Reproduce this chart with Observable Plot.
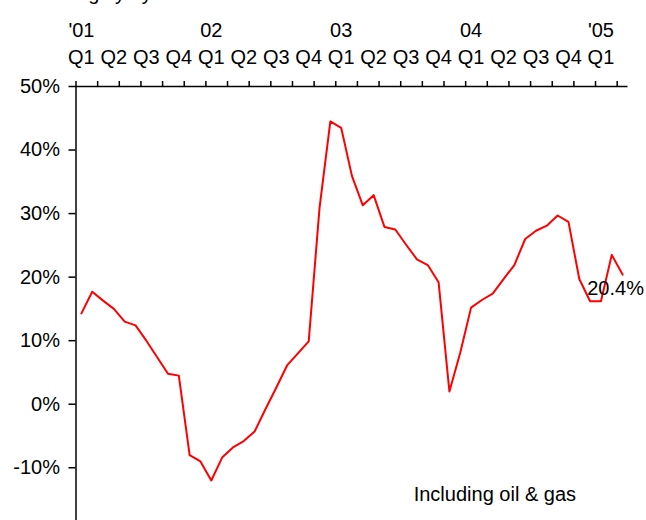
<!DOCTYPE html>
<html><head><meta charset="utf-8">
<script src="https://cdn.jsdelivr.net/npm/d3@7"></script>
<script src="https://cdn.jsdelivr.net/npm/@observablehq/plot@0.6"></script>
<style>
body{margin:0;background:#fff;}
#chart{width:646px;height:520px;overflow:hidden;}
</style></head><body><div id="chart"></div>
<script>
const months = [
 "2001-01","2001-02","2001-03","2001-04","2001-05","2001-06","2001-07","2001-08","2001-09","2001-10","2001-11","2001-12",
 "2002-01","2002-02","2002-03","2002-04","2002-05","2002-06","2002-07","2002-08","2002-09","2002-10","2002-11","2002-12",
 "2003-01","2003-02","2003-03","2003-04","2003-05","2003-06","2003-07","2003-08","2003-09","2003-10","2003-11","2003-12",
 "2004-01","2004-02","2004-03","2004-04","2004-05","2004-06","2004-07","2004-08","2004-09","2004-10","2004-11","2004-12",
 "2005-01","2005-02","2005-03"];
const values = [
 14.3, 17.7, 16.3, 15.0, 13.0, 12.4, 10.0, 7.4, 4.8, 4.5, -8.0, -9.0,
 -12.0, -8.4, -6.8, -5.8, -4.3, -0.8, 2.6, 6.1, 8.0, 9.9, 30.9, 44.5,
 43.5, 35.9, 31.3, 32.9, 27.9, 27.5, 25.1, 22.8, 21.9, 19.2, 2.0, 8.1,
 15.2, 16.4, 17.4, 19.7, 21.9, 26.0, 27.3, 28.1, 29.7, 28.7, 19.7, 16.2,
 16.2, 23.5, 20.4];
const quarterLabels = ["Q1","Q2","Q3","Q4","Q1","Q2","Q3","Q4","Q1","Q2","Q3","Q4","Q1","Q2","Q3","Q4","Q1"];
const yearLabels = ["'01","02","03","04","'05"];
const yTicks = [-10, 0, 10, 20, 30, 40, 50];
const title = "Earnings y / y";
const note = "Including oil & gas";

const data = months.map((m, i) => ({i, m, v: values[i]}));
const qData = quarterLabels.map((q, k) => ({i: k * 3, q}));
const yrData = yearLabels.map((y, k) => ({i: k * 12, y}));
const boundaries = d3.range(0, months.length, 2).map(b => b - 0.5);

const chart = Plot.plot({
  width: 646, height: 520,
  marginTop: 86, marginLeft: 75.5, marginRight: 18.5, marginBottom: 0,
  x: {domain: [-0.5, months.length - 0.5], axis: null},
  y: {domain: [-18.3, 50], axis: null},
  style: {fontFamily: "'Liberation Sans', Arial, sans-serif", fontSize: "20px", color: "#000", background: "#fff"},
  marks: [
    Plot.axisY(yTicks, {anchor: "left", tickSize: 7, tickPadding: 9, tickFormat: d => d + "%", fontSize: 20, strokeWidth: 1.5, label: null}),
    Plot.axisX(boundaries, {anchor: "top", tickSize: 6, tickFormat: () => "", strokeWidth: 1.5, label: null}),
    Plot.ruleX([-0.5], {strokeWidth: 1.5}),
    Plot.ruleY([50], {strokeWidth: 1.5}),
    Plot.line(data, {x: "i", y: "v", stroke: "#ff0000", strokeWidth: 2}),
    Plot.text(qData, {x: "i", text: "q", frameAnchor: "top", lineAnchor: "middle", dy: -28.5, fontSize: 20}),
    Plot.text(yrData, {x: "i", text: "y", frameAnchor: "top", lineAnchor: "middle", dy: -56, fontSize: 20}),
    Plot.text([title], {frameAnchor: "top-left", lineAnchor: "middle", dx: -45.5, dy: -92.5, textAnchor: "start", fontSize: 20}),
    Plot.text([note], {x: () => 30.7, y: () => -14.3, textAnchor: "start", fontSize: 20}),
    Plot.text(data.slice(-1), {x: "i", y: "v", text: d => d.v.toFixed(1) + "%", dx: -7, dy: 14, fontSize: 20})
  ]
});
document.getElementById("chart").appendChild(chart);
</script>
</body></html>
